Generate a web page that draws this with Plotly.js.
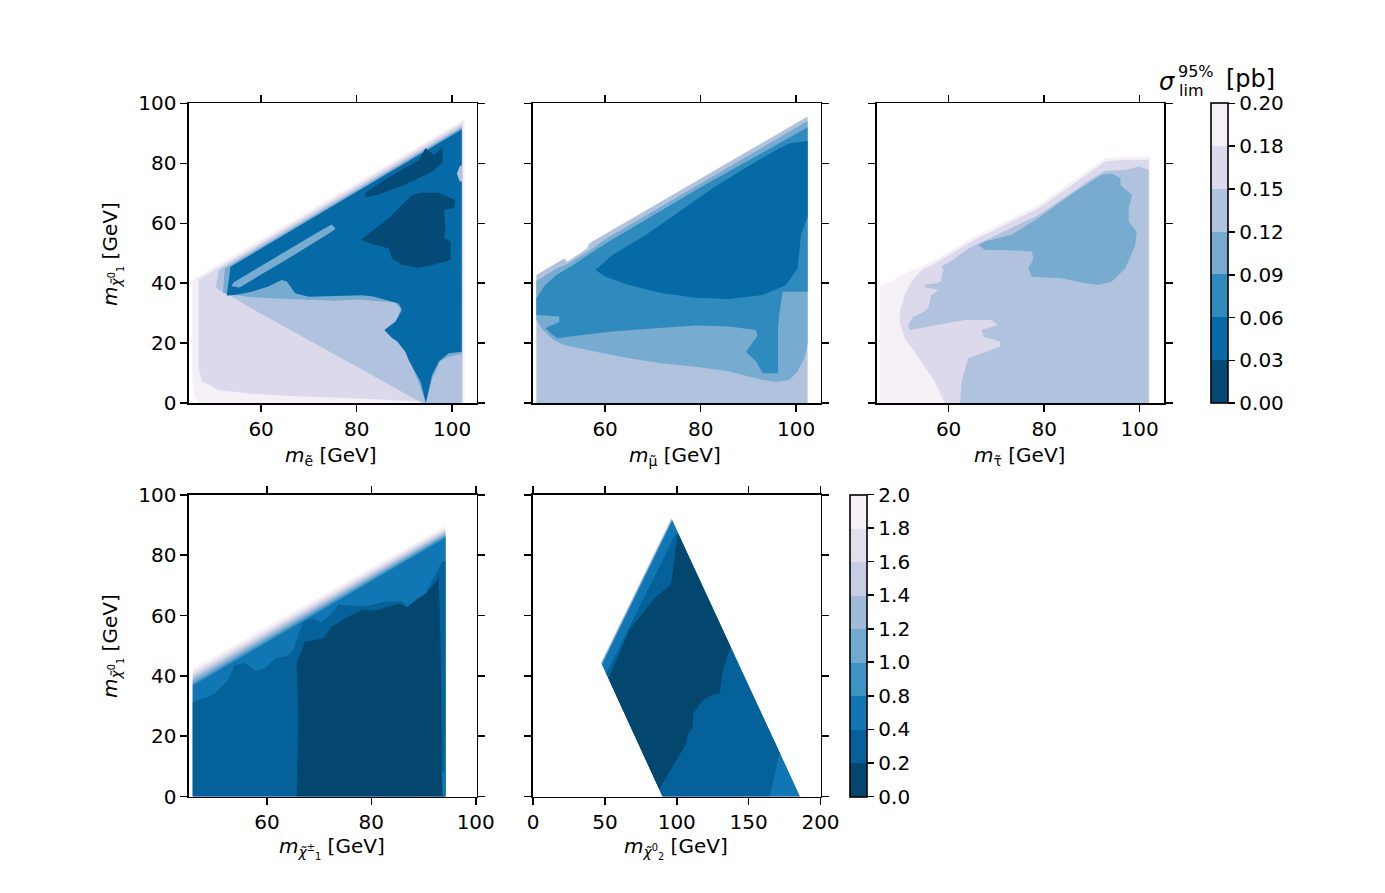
<!DOCTYPE html>
<html><head><meta charset="utf-8">
<script src="https://cdn.plot.ly/plotly-3.0.1.min.js"></script>
<style>html,body{margin:0;padding:0;background:#fff}#chart{width:1385px;height:893px}</style>
</head><body><div id="chart"></div>
<script>
// ---------------- colour levels ----------------
const TOP_LEVELS = [0, 0.02857, 0.05714, 0.08571, 0.11429, 0.14286, 0.17143, 0.2];
const TOP_TICK_TEXT = ['0.00','0.03','0.06','0.09','0.12','0.15','0.18','0.20'];
const TOP_COLORS = ['#034b76','#056aa6','#2f8bbe','#77abd0','#b1c2de','#dbd9eb','#f5eff6'];
const BOT_LEVELS = [0, 0.2222, 0.4444, 0.6667, 0.8889, 1.1111, 1.3333, 1.5556, 1.7778, 2.0];
const BOT_TICK_TEXT = ['0.0','0.2','0.4','0.8','1.0','1.2','1.4','1.6','1.8','2.0'];
const BOT_COLORS = ['#03476f','#046199','#1077b4','#3d93c2','#74a9cf','#a0bbda','#c7cde4','#e3e0ee','#f7f0f7'];

// ---------------- panel 1: selectron (iso-contours, [m_slepton, m_chi1]) ----------------
const SEL_L6 = [[45.6,41.1],[102.4,94.8],[102.6,94.8],[102.6,0],[47.0,0],[46.0,2.5],[45.6,8]];
const SEL_L5 = [[46.9,41.3],[102.2,93.6],[102.2,0.5],[94.5,0.6],[79.0,1.7],[65.0,2.5],[58.0,3.2],[51.0,4.4],[47.6,7.5],[46.9,12]];
const SEL_L4 = [[50.5,38.6],[51.2,44.5],[102.1,92.5],[102.1,0],[94.0,0],[93.0,0.7],[86.0,6.9],[79.0,13.0],[72.0,19.2],[65.0,25.4],[58.0,31.6],[55.0,34.5],[51.5,37.5]];
const SEL_L3 = [[52.0,36.8],[52.4,44.9],[102.05,91.9],[102.05,16.5],[99.3,15.5],[97.5,14.0],[95.8,8.0],[94.5,0],[93.2,6.0],[91.6,12.0],[90.2,17.5],[88.8,21.5],[87.5,24.5],[88.5,28.0],[89.2,31.5],[88.0,33.6],[84.0,34.0],[80.4,34.6],[75.0,34.2],[68.0,34.5],[62.0,35.0],[57.0,35.5]];
const SEL_L1 = [[52.8,35.9],[53.6,45.5],[102.0,91.3],[102.0,17.2],[99.3,16.7],[97.9,15.0],[97.2,13.9],[95.8,9.4],[94.5,0.2],[93.4,7.2],[92.3,10.6],[90.9,14.4],[90.2,17.2],[88.5,20.6],[87.4,21.8],[85.8,24.4],[88.1,27.2],[89.5,31.1],[88.8,33.3],[86.0,34.4],[83.5,35.6],[81.1,36.0],[76.0,35.7],[70.0,35.5],[67.1,36.7],[65.4,40.6],[64.3,41.1],[61.5,38.9],[58.0,37.2],[54.5,36.1]];
const SEL_SLIVER = [[53.8,39.0],[54.2,40.3],[60,45.8],[65,50.6],[70,55.3],[72.5,57.6],[74.8,59.6],[75.6,58.2],[74.2,56.6],[70,52.4],[65,47.6],[60,42.9],[55.5,38.6]];
const SEL_NOTCH = [[101.0,76.5],[101.6,73.9],[102.1,73.9],[102.1,79.4],[101.6,79.0]];
const SEL_D1 = [[81.8,70.2],[86.0,74.6],[90.2,78.6],[93.0,81.0],[94.4,85.0],[96.2,82.8],[98.0,85.5],[98.0,80.4],[95.8,77.2],[93.0,75.0],[88.8,72.0],[84.6,69.6],[81.8,68.6]];
const SEL_D2 = [[81.1,54.8],[86.7,61.7],[91.6,69.4],[93.7,70.2],[97.2,70.2],[100.6,67.8],[100.4,65.0],[98.3,64.4],[98.6,58.3],[98.3,55.0],[99.7,53.9],[99.7,47.8],[95.8,46.1],[93.0,45.2],[89.5,46.1],[87.4,48.3],[86.7,51.7],[83.9,52.8],[81.1,54.4]];

// ---------------- panel 2: smuon ----------------
const SMU_L4 = [[45.6,0],[45.6,42.8],[51.4,48.3],[52.1,47.2],[56.3,51.7],[56.6,53.3],[102.4,95.6],[102.4,0]];
const SMU_L3 = [[45.6,27.8],[45.6,40.8],[50.0,45.1],[52.1,46.4],[56.6,50.8],[60.0,54.7],[80.0,73.3],[102.4,94.1],[102.4,20.0],[101.7,15.0],[100.3,10.6],[98.6,7.8],[95.8,7.2],[93.0,7.8],[86.0,10.6],[79.0,12.2],[72.0,13.3],[65.0,15.0],[58.0,17.2],[51.5,19.4],[49.2,21.1],[47.0,24.4]];
const SMU_L2 = [[45.6,29.4],[45.6,35.0],[47.5,39.5],[50.0,43.0],[53.0,45.8],[56.6,49.6],[60.0,53.2],[80.0,72.0],[102.4,92.0],[102.4,37.2],[97.2,37.2],[96.5,30.0],[96.2,25.0],[96.2,10.0],[93.0,10.0],[91.6,13.9],[89.5,17.2],[91.9,22.5],[91.6,24.4],[86.0,25.6],[79.0,25.9],[72.0,25.2],[65.7,24.4],[61.5,23.9],[55.2,22.8],[50.0,21.7],[48.7,23.3],[47.5,25.0],[50.4,27.2],[50.4,28.9]];
const SMU_L1 = [[58.0,44.4],[61.5,49.4],[68.5,56.1],[75.5,63.9],[82.5,71.7],[89.5,78.6],[96.0,84.6],[98.5,86.6],[102.4,87.4],[102.4,62.2],[101.0,56.1],[100.3,45.0],[97.9,39.4],[93.0,36.1],[86.0,34.8],[79.0,35.2],[72.0,36.7],[65.0,39.4],[60.1,42.2]];

// ---------------- panel 3: stau ----------------
const STAU_L6 = [[45.6,0],[45.6,38.9],[48.0,40.6],[50.8,43.3],[54.3,45.6],[57.8,48.3],[64.8,55.0],[71.8,60.6],[78.8,66.1],[85.8,73.9],[92.8,81.7],[97.0,82.2],[102.2,82.2],[102.2,0]];
const STAU_L5 = [[49.8,30.6],[50.8,36.1],[52.2,40.5],[54.3,44.3],[57.8,47.2],[64.8,53.9],[71.8,59.5],[78.8,65.0],[85.8,72.8],[92.8,80.6],[97.0,81.2],[101.9,81.2],[101.9,0],[59.2,0],[57.1,7.2],[54.3,13.9],[50.8,21.7],[49.8,27.2]];
const STAU_L4 = [[62.4,0],[62.7,7.2],[64.1,15.0],[70.8,18.9],[70.8,20.6],[67.3,22.2],[66.9,24.4],[70.4,26.1],[69.0,27.8],[63.4,27.8],[61.3,27.2],[57.8,26.1],[54.3,25.0],[51.9,24.4],[51.5,26.1],[52.6,28.9],[54.3,30.0],[55.7,31.7],[56.1,33.9],[56.4,36.1],[57.8,37.6],[57.0,38.2],[55.0,38.6],[55.2,39.6],[57.5,40.0],[58.5,40.8],[58.5,42.2],[58.9,44.5],[58.5,45.5],[60.6,47.5],[64.1,51.5],[71.8,57.5],[78.8,62.8],[86.5,71.0],[88.6,73.5],[92.8,77.5],[97.0,77.8],[99.8,78.9],[101.9,77.8],[101.9,0]];
const STAU_L3 = [[66.2,52.8],[67.6,53.9],[73.2,56.2],[78.8,61.8],[85.8,69.8],[92.1,76.3],[94.2,76.6],[96.0,75.0],[96.0,72.8],[98.4,69.4],[97.7,65.0],[97.7,60.6],[99.4,57.2],[99.1,52.8],[97.0,45.0],[94.2,40.6],[91.4,39.4],[88.6,40.0],[83.7,41.7],[77.4,42.2],[76.7,45.0],[77.8,48.3],[77.4,50.6],[71.8,51.1],[67.6,51.1]];

// ---------------- panel 4: chargino ----------------
const CHA_L8 = [[45.8,0],[45.8,42.4],[94.2,89.7],[94.2,0]];
const CHA_L7 = [[45.8,0],[45.8,41.3],[94.2,88.9],[94.2,0]];
const CHA_L6 = [[45.8,0],[45.8,40.3],[94.2,88.2],[94.2,0]];
const CHA_L5 = [[45.8,0],[45.8,39.4],[94.2,87.6],[94.2,0]];
const CHA_L4 = [[45.8,0],[45.8,38.5],[94.2,87.0],[94.2,0]];
const CHA_L3 = [[45.8,0],[45.8,37.6],[94.2,86.4],[94.2,0]];
const CHA_L2 = [[45.8,0],[45.8,36.8],[94.2,85.8],[94.2,0]];
const CHA_L1 = [[45.8,0],[45.8,31.3],[50.0,34.1],[52.6,38.6],[53.8,43.5],[55.8,44.2],[57.7,41.7],[59.6,42.4],[61.5,45.8],[63.8,46.6],[65.1,48.6],[65.4,50.8],[67.0,58.0],[68.6,59.1],[70.5,57.7],[72.4,60.8],[73.7,63.6],[78.8,63.0],[82.7,64.7],[85.9,64.7],[86.9,63.0],[88.5,65.2],[90.4,67.4],[93.6,78.0],[94.2,78.0],[94.2,0]];
const CHA_L0 = [[65.7,0],[66.0,25.2],[65.7,44.1],[67.3,51.3],[70.8,52.4],[72.4,56.3],[75.0,59.1],[78.2,61.9],[80.8,61.7],[85.3,63.9],[86.9,62.8],[88.5,65.0],[90.4,67.2],[92.9,72.4],[93.3,47.4],[93.5,7.4],[93.8,0]];
const CHA_SPOT = [[93.5,7.4],[94.2,8.5],[94.2,0],[93.7,0]];

// ---------------- panel 5: neutralino 2 ----------------
const NEU_L8 = [[47.2,44.7],[96.0,92.4],[185.6,0],[90.2,0]];
const NEU_L7 = [[47.35,44.55],[96.16,92.25],[185.6,0],[90.2,0]];
const NEU_L6 = [[47.5,44.4],[96.3,92.1],[185.6,0],[90.2,0]];
const NEU_L5 = [[47.64,44.25],[96.45,91.95],[185.6,0],[90.2,0]];
const NEU_L4 = [[47.78,44.1],[96.6,91.8],[185.6,0],[90.2,0]];
const NEU_L3 = [[47.93,43.94],[96.74,91.65],[185.6,0],[90.2,0]];
const NEU_L2 = [[48.07,43.79],[96.89,91.5],[185.6,0],[90.2,0]];
const NEU_L1 = [[51.0,40.8],[99.5,87.4],[171.6,14.5],[164.7,0],[90.2,0]];
const NEU_L0 = [[52.6,39.1],[67.0,55.2],[85.6,66.3],[96.0,70.2],[97.2,74.1],[100.7,87.4],[137.4,49.7],[132.1,41.9],[129.8,34.1],[124.0,33.6],[118.1,31.9],[111.2,27.4],[111.2,23.0],[107.7,20.8],[106.5,17.4],[87.8,2.5]];

// band index of each drawn contour region, drawn in this order
const PANELS = [
  {xa:'x',  ya:'y',  colors:TOP_COLORS, layers:[[6,SEL_L6],[5,SEL_L5],[4,SEL_L4],[3,SEL_L3],[1,SEL_L1],[3,SEL_SLIVER],[4,SEL_NOTCH],[0,SEL_D1],[0,SEL_D2]]},
  {xa:'x2', ya:'y2', colors:TOP_COLORS, layers:[[4,SMU_L4],[3,SMU_L3],[2,SMU_L2],[1,SMU_L1]]},
  {xa:'x3', ya:'y3', colors:TOP_COLORS, layers:[[6,STAU_L6],[5,STAU_L5],[4,STAU_L4],[3,STAU_L3]]},
  {xa:'x4', ya:'y4', colors:BOT_COLORS, layers:[[8,CHA_L8],[7,CHA_L7],[6,CHA_L6],[5,CHA_L5],[4,CHA_L4],[3,CHA_L3],[2,CHA_L2],[1,CHA_L1],[0,CHA_L0],[2,CHA_SPOT]]},
  {xa:'x5', ya:'y5', colors:BOT_COLORS, layers:[[8,NEU_L8],[7,NEU_L7],[6,NEU_L6],[5,NEU_L5],[4,NEU_L4],[3,NEU_L3],[2,NEU_L2],[1,NEU_L1],[0,NEU_L0]]}
];

const FONT = 'DejaVu Sans';
const W = 1385, H = 893;
const px = v => v / W, py = v => 1 - v / H;

const traces = [];
PANELS.forEach(p => {
  p.layers.forEach(([band, pts]) => {
    traces.push({
      type:'scatter', mode:'lines', x: pts.map(q=>q[0]), y: pts.map(q=>q[1]),
      fill:'toself', fillcolor: p.colors[band], line:{width:0, color:p.colors[band]},
      xaxis:p.xa, yaxis:p.ya, hoverinfo:'skip', showlegend:false
    });
  });
});

function stepScale(colors){
  const n = colors.length, s = [];
  colors.forEach((c,i)=>{ s.push([i/n, c]); s.push([(i+1)/n, c]); });
  return s;
}
function cbar(x, yBottom, yTop, levels, text){
  return {x: px(x), xanchor:'left', y: py(yBottom), yanchor:'bottom', len: (yBottom-yTop)/H, lenmode:'fraction',
    thickness:17, thicknessmode:'pixels', xpad:0, ypad:0, outlinewidth:1.6, outlinecolor:'#000', borderwidth:0,
    ticks:'outside', ticklen:7, tickwidth:1.6, tickcolor:'#000', tickmode:'array', tickvals:levels, ticktext:text,
    tickfont:{family:FONT, size:20, color:'#000'}};
}
traces.push({type:'heatmap', z:[[TOP_LEVELS[0], TOP_LEVELS[TOP_LEVELS.length-1]]], zmin:TOP_LEVELS[0], zmax:TOP_LEVELS[TOP_LEVELS.length-1],
  colorscale: stepScale(TOP_COLORS), xaxis:'x6', yaxis:'y6', opacity:0, hoverinfo:'skip',
  colorbar: cbar(1211, 403.3, 103.3, TOP_LEVELS, TOP_TICK_TEXT)});
traces.push({type:'heatmap', z:[[BOT_LEVELS[0], BOT_LEVELS[BOT_LEVELS.length-1]]], zmin:BOT_LEVELS[0], zmax:BOT_LEVELS[BOT_LEVELS.length-1],
  colorscale: stepScale(BOT_COLORS), xaxis:'x6', yaxis:'y6', opacity:0, hoverinfo:'skip',
  colorbar: cbar(850, 796.5, 495, BOT_LEVELS, BOT_TICK_TEXT)});

function axis(domain, range, tickvals, showLabels, anchor){
  return {domain, range, anchor, tickmode:'array', tickvals, ticks:'outside', ticklen:7, tickwidth:1.6, tickcolor:'#000',
    showline:true, linecolor:'#000', linewidth:1.6, mirror:'ticks', showgrid:false, zeroline:false,
    showticklabels:showLabels, tickfont:{family:FONT, size:20, color:'#000'}, fixedrange:true, automargin:false};
}
const XT = [60,80,100], YT = [0,20,40,60,80,100];
const topY = [py(403.3), py(103.3)], botY = [py(796.5), py(495)];
const c1 = [px(189), px(476.5)], c2 = [px(533), px(820.5)], c3 = [px(876.5), px(1164)];

function ann(text, x, y, size, angle){
  return {text, x:px(x), y:py(y), xref:'paper', yref:'paper', xanchor:'center', yanchor:'middle', showarrow:false,
    textangle: angle||0, font:{family:FONT, size, color:'#000'}};
}
const chi1 = '<i>m</i><sub><i>χ̃</i><sup>0</sup><sub>1</sub></sub> [GeV]';
const annotations = [
  ann('<i>m</i><sub>ẽ</sub> [GeV]', 331, 456, 20),
  ann('<i>m</i><sub>μ̃</sub> [GeV]', 674.5, 456, 20),
  ann('<i>m</i><sub>τ̃</sub> [GeV]', 1019.5, 456, 20),
  ann('<i>m</i><sub><i>χ̃</i><sup>±</sup><sub>1</sub></sub> [GeV]', 332, 848, 20),
  ann('<i>m</i><sub><i>χ̃</i><sup>0</sup><sub>2</sub></sub> [GeV]', 675.5, 848, 20),
  ann(chi1, 112, 254, 20, -90),
  ann(chi1, 112, 646, 20, -90),
  ann('<i>σ</i>', 1167, 82, 24),
  ann('95%', 1196, 71, 16),
  ann('lim', 1191, 90, 16),
  ann('[pb]', 1250, 79, 24)
];

const layout = {
  width:W, height:H, margin:{l:0,r:0,t:0,b:0}, paper_bgcolor:'#fff', plot_bgcolor:'rgba(0,0,0,0)',
  showlegend:false, hovermode:false, font:{family:FONT, size:20, color:'#000'},
  xaxis:  axis(c1, [44.9,105.1], XT, true, 'y'),
  yaxis:  axis(topY, [0,100], YT, true, 'x'),
  xaxis2: axis(c2, [44.9,105.1], XT, true, 'y2'),
  yaxis2: axis(topY, [0,100], YT, false, 'x2'),
  xaxis3: axis(c3, [44.9,105.1], XT, true, 'y3'),
  yaxis3: axis(topY, [0,100], YT, false, 'x3'),
  xaxis4: axis(c1, [45.07,100.15], XT, true, 'y4'),
  yaxis4: axis(botY, [0,100], YT, true, 'x4'),
  xaxis5: axis(c2, [0,200], [0,50,100,150,200], true, 'y5'),
  yaxis5: axis(botY, [0,100], YT, false, 'x5'),
  xaxis6: {domain:[0,0.005], visible:false, anchor:'y6', fixedrange:true},
  yaxis6: {domain:[0,0.005], visible:false, anchor:'x6', fixedrange:true},
  annotations
};
Plotly.newPlot('chart', traces, layout, {staticPlot:true, displayModeBar:false});
</script></body></html>
